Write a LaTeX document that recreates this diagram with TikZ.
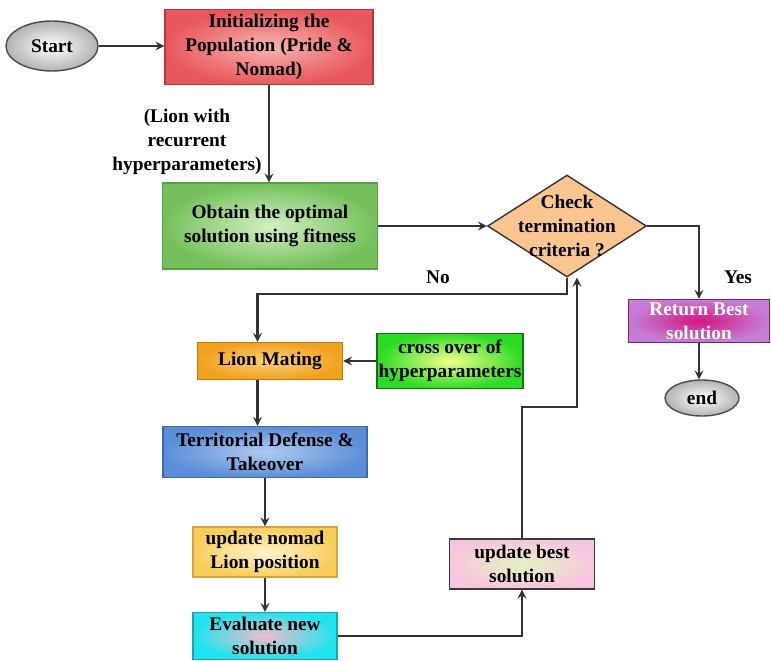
\documentclass[tikz,border=0pt]{standalone}
\usepackage{fontspec}
\setmainfont{Liberation Serif}
\usepackage{tikz}
\usetikzlibrary{shapes.geometric}

\definecolor{initout}{HTML}{E8585B}
\definecolor{initin}{HTML}{F6B4B2}
\definecolor{initdraw}{HTML}{B8383A}
\definecolor{obtainout}{HTML}{74C15C}
\definecolor{obtainin}{HTML}{D2EFC0}
\definecolor{obtaindraw}{HTML}{5A9E45}
\definecolor{checkfill}{HTML}{F9C690}
\definecolor{retout}{HTML}{C47ED8}
\definecolor{retin}{HTML}{D6157F}
\definecolor{retdraw}{HTML}{7E2464}
\definecolor{matingout}{HTML}{F2A11C}
\definecolor{matingin}{HTML}{F9D27A}
\definecolor{matingdraw}{HTML}{C27A12}
\definecolor{crossout}{HTML}{2BDD22}
\definecolor{crossin}{HTML}{F2FF8A}
\definecolor{crossdraw}{HTML}{1A6E1A}
\definecolor{defout}{HTML}{5B8ED6}
\definecolor{defin}{HTML}{AFCBF0}
\definecolor{defdraw}{HTML}{3E6AAE}
\definecolor{nomadout}{HTML}{F8CE5A}
\definecolor{nomadin}{HTML}{FFF3CC}
\definecolor{nomaddraw}{HTML}{D6A53A}
\definecolor{evalout}{HTML}{1DE4EE}
\definecolor{evalin}{HTML}{F4BCCB}
\definecolor{evaldraw}{HTML}{17A7B0}
\definecolor{bestout}{HTML}{F7C6DE}
\definecolor{bestin}{HTML}{E4F2C2}
\definecolor{bestdraw}{HTML}{3A3A3A}

\begin{document}
\begin{tikzpicture}[x=0.02cm, y=-0.02cm, >=stealth,
    font=\fontsize{11}{13.5}\selectfont\bfseries,
    box/.style={rectangle, thick, align=center, inner sep=1pt},
    oval/.style={ellipse, draw=black!70, thick, inner color=white, outer color=black!30},
    flow/.style={->, line width=1.2pt, black!80}]

    \useasboundingbox (0,0) rectangle (771,660);

    \node[oval, minimum width=1.84cm, minimum height=1cm]       (start) at (52, 46)     {Start};
    \node[box, draw=initdraw, inner color=initin, outer color=initout,
          minimum width=4.16cm, minimum height=1.5cm]           (init) at (269, 47)     {Initializing the\\Population (Pride \&\\Nomad)};
    \node[align=center]                                         (hyp) at (187, 142)     {(Lion with\\recurrent\\hyperparameters)};
    \node[box, draw=obtaindraw, inner color=obtainin, outer color=obtainout,
          minimum width=4.3cm, minimum height=1.72cm]           (obtain) at (270, 226)  {Obtain the optimal\\solution using fitness};
    \node[diamond, draw=black!80, thick, fill=checkfill, inner sep=0pt,
          minimum width=3.18cm, minimum height=2.04cm,
          label={[align=center]center:Check\\termination\\criteria ?}] (check) at (567, 226) {};
    \node                                                       (no) at (438, 277)      {No};
    \node                                                       (yes) at (738, 277)     {Yes};
    \node[box, draw=retdraw, inner color=retin, outer color=retout, text=white,
          minimum width=2.82cm, minimum height=0.86cm]          (ret) at (699, 321)     {Return Best\\solution};
    \node[oval, minimum width=1.48cm, minimum height=0.72cm]    (finish) at (702, 398)  {end};
    \node[box, draw=matingdraw, inner color=matingin, outer color=matingout,
          minimum width=2.9cm, minimum height=0.74cm]           (mating) at (270, 361)  {Lion Mating};
    \node[box, draw=crossdraw, inner color=crossin, outer color=crossout,
          minimum width=2.9cm, minimum height=1.1cm]            (cross) at (450, 361)   {cross over of\\hyperparameters};
    \node[box, draw=defdraw, inner color=defin, outer color=defout,
          minimum width=4.08cm, minimum height=1.02cm]          (defense) at (265, 452) {Territorial Defense \&\\Takeover};
    \node[box, draw=nomaddraw, inner color=nomadin, outer color=nomadout,
          minimum width=2.88cm, minimum height=1cm]             (nomad) at (265, 552)   {update nomad\\Lion position};
    \node[box, draw=evaldraw, inner color=evalin, outer color=evalout,
          minimum width=2.88cm, minimum height=0.94cm]          (eval) at (265, 636)    {Evaluate new\\solution};
    \node[box, draw=bestdraw, inner color=bestin, outer color=bestout,
          minimum width=2.9cm, minimum height=1cm]              (best) at (522, 564)    {update best\\solution};


    \draw[flow] (start.east) -- (start.east -| init.west);
    \draw[flow] (init.south) -- (init.south |- obtain.north);
    \draw[flow] (obtain.east) -- (check.west);
    \draw[flow] (check.east) -| (ret.north);
    \draw[flow] (ret.south) -- (ret.south |- finish.north);
    \draw[flow] (check.south) -- ++(0, 16) -| ([xshift=-0.25cm]mating.north);
    \draw[flow] (cross.west) -- (mating.east);
    \draw[flow] ([xshift=-0.25cm]mating.south) -- ([xshift=-0.25cm]mating.south |- defense.north);
    \draw[flow] (defense.south) -- (nomad.north);
    \draw[flow] (nomad.south) -- (eval.north);
    \draw[flow] (eval.east) -| (best.south);
    \draw[flow] (best.north) -- ++(0, -131) -| ([xshift=0.2cm]check.south);
  \end{tikzpicture}
\end{document}
